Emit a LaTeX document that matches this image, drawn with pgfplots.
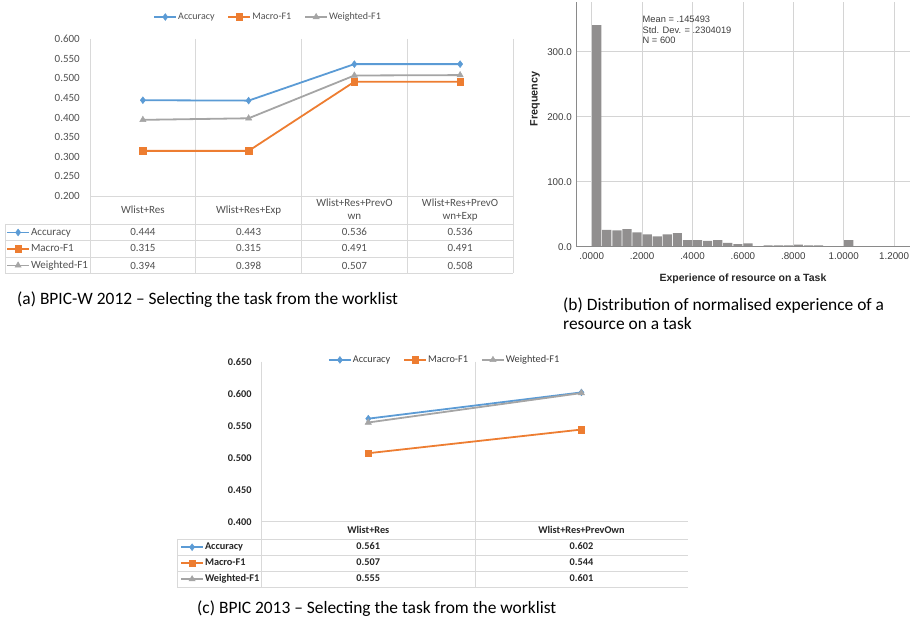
\documentclass[border=0pt]{standalone}
\usepackage{pgfplots}
\pgfplotsset{compat=1.18}
\usepackage{fontspec}
\setmainfont{Carlito}
\newfontfamily\arialf{Liberation Sans}
\definecolor{cAcc}{HTML}{5B9BD5}
\definecolor{cMac}{HTML}{ED7D31}
\definecolor{cWei}{HTML}{A5A5A5}
\definecolor{gridc}{HTML}{D9D9D9}
\definecolor{txta}{HTML}{505050}
\definecolor{txtc}{HTML}{262626}
\definecolor{barc}{HTML}{918F8F}
\definecolor{hgrid}{HTML}{D4D4D4}
\definecolor{hax}{HTML}{8A8A8A}
\definecolor{htxt}{HTML}{3C3C3C}
\pgfplotsset{
  accst/.style={color=cAcc, line width=1.8pt, mark=diamond*, mark size=3.4pt, mark options={line width=0.5pt}},
  macst/.style={color=cMac, line width=1.8pt, mark=square*, mark size=3.3pt, mark options={line width=0.5pt}},
  weist/.style={color=cWei, line width=1.8pt, mark=triangle*, mark size=3.6pt, mark options={line width=0.5pt}},
  keyimg/.style={legend image code/.code={\draw[mark repeat=2,mark phase=2] plot coordinates {(0pt,0pt) (11pt,0pt) (22pt,0pt)};}},
}
\newcommand\fA{\fontsize{11}{13}\selectfont}
\newcommand\fL{\fontsize{10}{12}\selectfont}
\newcommand\fC{\fontsize{10.3}{12}\selectfont}
\newcommand\fCap{\fontsize{17.4}{19}\selectfont}
\begin{document}
\begin{tikzpicture}[x=1pt,y=1pt]
\path[use as bounding box] (0,0) rectangle (916,620);

%================ (a) =================
\draw[gridc, line width=0.8pt] (90,581) -- (90,347);
\draw[gridc, line width=0.8pt] (195.75,581) -- (195.75,347);
\draw[gridc, line width=0.8pt] (301.5,581) -- (301.5,347);
\draw[gridc, line width=0.8pt] (407.25,581) -- (407.25,347);
\draw[gridc, line width=0.8pt] (513,581) -- (513,347);
\draw[gridc, line width=0.8pt] (5,396) -- (5,347);
\draw[gridc, line width=0.8pt] (90,424) -- (513,424);
\draw[gridc, line width=0.8pt] (5,396) -- (513,396);
\draw[gridc, line width=0.8pt] (5,379.5) -- (513,379.5);
\draw[gridc, line width=0.8pt] (5,363) -- (513,363);
\draw[gridc, line width=0.8pt] (5,347) -- (513,347);

\begin{axis}[
  at={(90pt,424pt)}, anchor=south west, scale only axis,
  width=423pt, height=157pt,
  xmin=0.5, xmax=4.5, ymin=0.2, ymax=0.6,
  axis line style={draw=none},
  xtick=\empty,
  ytick={0.2,0.25,0.3,0.35,0.4,0.45,0.5,0.55,0.6},
  yticklabels={0.200,0.250,0.300,0.350,0.400,0.450,0.500,0.550,0.600},
  major tick length=0pt,
  yticklabel style={font=\fA, text=txta, inner xsep=0pt, xshift=-10pt},
  clip=false, keyimg,
  legend columns=3,
  legend style={at={(0.42,1.14)}, anchor=center, draw=none, fill=none, font=\fL, text=txta,
    /tikz/every even column/.append style={column sep=12pt}, nodes={inner xsep=1pt}},
]
\addplot[accst] coordinates {(1,0.444) (2,0.443) (3,0.536) (4,0.536)};
\addlegendentry{Accuracy}
\addplot[macst] coordinates {(1,0.315) (2,0.315) (3,0.491) (4,0.491)};
\addlegendentry{Macro-F1}
\addplot[weist] coordinates {(1,0.394) (2,0.398) (3,0.507) (4,0.508)};
\addlegendentry{Weighted-F1}
\end{axis}

\begin{axis}[
  at={(5pt,347pt)}, anchor=south west, scale only axis,
  width=85pt, height=49pt, hide axis,
  xmin=0, xmax=1, ymin=0, ymax=1, keyimg,
  legend cell align=left,
  legend style={at={(0,1)}, anchor=north west, draw=none, fill=none, inner xsep=1pt, inner ysep=0pt,
    row sep=0pt, font=\fA, text=txta,
    nodes={inner xsep=1pt, inner ysep=0pt, text height=11pt, text depth=5.5pt}},
]
\addlegendimage{accst}\addlegendentry{Accuracy}
\addlegendimage{macst}\addlegendentry{Macro-F1}
\addlegendimage{weist}\addlegendentry{Weighted-F1}
\end{axis}

\begin{scope}[every node/.style={anchor=base, inner sep=0pt, font=\fA, text=txta}]
\node at (142.9,406.5) {Wlist+Res};
\node at (248.6,406.5) {Wlist+Res+Exp};
\node at (354.4,413.8) {Wlist+Res+PrevO};
\node at (354.4,400.5) {wn};
\node at (460.1,413.8) {Wlist+Res+PrevO};
\node at (460.1,400.5) {wn+Exp};
\node at (142.9,384.2) {0.444};
\node at (248.6,384.2) {0.443};
\node at (354.4,384.2) {0.536};
\node at (460.1,384.2) {0.536};
\node at (142.9,368.2) {0.315};
\node at (248.6,368.2) {0.315};
\node at (354.4,368.2) {0.491};
\node at (460.1,368.2) {0.491};
\node at (142.9,350.8) {0.394};
\node at (248.6,350.8) {0.398};
\node at (354.4,350.8) {0.507};
\node at (460.1,350.8) {0.508};
\end{scope}
\node[anchor=base west, inner sep=0pt, font=\fCap] at (17,315) {(a) BPIC-W 2012 -- Selecting the task from the worklist};

%================ (b) =================
\begin{axis}[
  at={(576pt,373.3pt)}, anchor=south west, scale only axis,
  width=334pt, height=244.7pt,
  xmin=-0.0623, xmax=1.263, ymin=0, ymax=376.5,
  axis x line=bottom, axis y line=left,
  axis line style={-, draw=hax, line width=0.8pt},
  xtick={0,0.2,0.4,0.6,0.8,1.0,1.2},
  xticklabels={.0000,.2000,.4000,.6000,.8000,1.0000,1.2000},
  ytick={0,100,200,300}, yticklabels={0.0,100.0,200.0,300.0},
  major tick length=0pt,
  grid=major, grid style={draw=hgrid, line width=0.7pt},
  ticklabel style={font=\arialf\fontsize{9.8}{11}\selectfont, text=htxt},
  yticklabel style={inner xsep=0pt, xshift=-4pt},
  xticklabel style={inner ysep=0pt, yshift=-6pt},
  clip=false,
]
\addplot[ybar, bar width=0.0365, bar shift=0pt, fill=barc, draw=none] coordinates {
(0.02,341) (0.06,26) (0.10,25) (0.14,27) (0.18,22) (0.22,19) (0.26,16) (0.30,19)
(0.34,21) (0.38,10) (0.42,10) (0.46,9) (0.50,10) (0.54,6) (0.58,4) (0.62,5)
(0.66,1) (0.70,2) (0.74,2) (0.78,2) (0.82,3) (0.86,2) (0.90,2) (1.02,10)};
\draw[hax, line width=0.8pt] (axis cs:-0.0623,0) -- (axis cs:1.263,0);
\end{axis}
\node[rotate=90, inner sep=0pt, font=\arialf\bfseries\fontsize{10.8}{12}\selectfont, text=black!85] at (535,521) {Frequency};
\node[inner sep=0pt, font=\arialf\bfseries\fontsize{10.5}{12}\selectfont, text=black!85] at (743,341) {Experience of resource on a Task};
\begin{scope}[every node/.style={anchor=base west, inner sep=0pt, font=\arialf\fontsize{9.3}{10}\selectfont, text=htxt}]
\node at (642.5,597) {Mean = .145493};
\node at (642.5,586.7) {Std. Dev. = .2304019};
\node at (642.5,576.4) {N = 600};
\end{scope}
\node[anchor=base west, inner sep=0pt, font=\fCap] at (563,309.3) {(b) Distribution of normalised experience of a};
\node[anchor=base west, inner sep=0pt, font=\fCap] at (563,290.2) {resource on a task};

%================ (c) =================
\draw[gridc, line width=0.8pt] (261.7,258.3) -- (261.7,33);
\draw[gridc, line width=0.8pt] (475,258.3) -- (475,33);
\draw[gridc, line width=0.8pt] (177,81) -- (177,33);
\draw[gridc, line width=0.8pt] (261.7,98.3) -- (688,98.3);
\draw[gridc, line width=0.8pt] (177,81) -- (688,81);
\draw[gridc, line width=0.8pt] (177,65) -- (688,65);
\draw[gridc, line width=0.8pt] (177,49) -- (688,49);
\draw[gridc, line width=0.8pt] (177,33) -- (688,33);

\begin{axis}[
  at={(261.7pt,98.3pt)}, anchor=south west, scale only axis,
  width=426.3pt, height=160pt,
  xmin=0.5, xmax=2.5, ymin=0.4, ymax=0.65,
  axis line style={draw=none},
  xtick=\empty,
  ytick={0.4,0.45,0.5,0.55,0.6,0.65},
  yticklabels={0.400,0.450,0.500,0.550,0.600,0.650},
  major tick length=0pt,
  yticklabel style={font=\bfseries\fC, text=txtc, inner xsep=0pt, xshift=-10pt},
  clip=false, keyimg,
  legend columns=3,
  legend style={at={(0.428,1.011)}, anchor=center, draw=none, fill=none, font=\fC, text=txtc!90,
    /tikz/every even column/.append style={column sep=12pt}, nodes={inner xsep=1pt}},
]
\addplot[accst] coordinates {(1,0.561) (2,0.602)};
\addlegendentry{Accuracy}
\addplot[macst] coordinates {(1,0.507) (2,0.544)};
\addlegendentry{Macro-F1}
\addplot[weist] coordinates {(1,0.555) (2,0.601)};
\addlegendentry{Weighted-F1}
\end{axis}

\begin{axis}[
  at={(177pt,33pt)}, anchor=south west, scale only axis,
  width=84.7pt, height=48pt, hide axis,
  xmin=0, xmax=1, ymin=0, ymax=1, keyimg,
  legend cell align=left,
  legend style={at={(0,1)}, anchor=north west, draw=none, fill=none, inner xsep=3pt, inner ysep=0pt,
    row sep=0pt, font=\bfseries\fC, text=txtc,
    nodes={inner xsep=1pt, inner ysep=0pt, text height=10.8pt, text depth=5.2pt}},
]
\addlegendimage{accst}\addlegendentry{Accuracy}
\addlegendimage{macst}\addlegendentry{Macro-F1}
\addlegendimage{weist}\addlegendentry{Weighted-F1}
\end{axis}

\begin{scope}[every node/.style={anchor=base, inner sep=0pt, font=\bfseries\fC, text=txtc}]
\node at (368.3,86.5) {Wlist+Res};
\node at (581.5,86.5) {Wlist+Res+PrevOwn};
\node at (368.3,70.8) {0.561};
\node at (581.5,70.8) {0.602};
\node at (368.3,54.8) {0.507};
\node at (581.5,54.8) {0.544};
\node at (368.3,38.2) {0.555};
\node at (581.5,38.2) {0.601};
\end{scope}
\node[anchor=base west, inner sep=0pt, font=\fCap] at (197,6.7) {(c) BPIC 2013 -- Selecting the task from the worklist};
\end{tikzpicture}
\end{document}
